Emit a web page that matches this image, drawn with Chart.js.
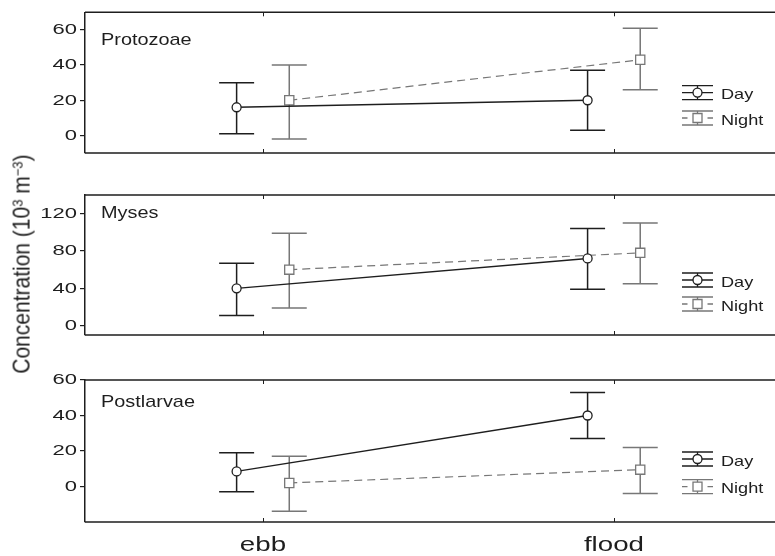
<!DOCTYPE html>
<html>
<head>
<meta charset="utf-8">
<script src="https://cdn.jsdelivr.net/npm/chart.js@4/dist/chart.umd.min.js"></script>
<style>
  html, body { margin: 0; padding: 0; background: #fff; }
  #wrap { position: relative; width: 775px; height: 556px; overflow: hidden; }
  .panel { position: absolute; left: 0; width: 775px; }
  #ytitle {
    position: absolute; left: 22px; top: 264px;
    transform: translate(-50%, -50%) rotate(-90deg) scaleY(1.12);
    white-space: nowrap; line-height: 1; color: #1e1e1e;
    font: 21px "Liberation Sans", Arial, Helvetica, sans-serif;
  }
  #ytitle sup { font-size: 0.62em; line-height: 0; vertical-align: 0.5em; }
</style>
</head>
<body>
<div id="wrap">
  <div class="panel" style="top:0;height:175px"><canvas id="protozoa" width="775" height="175"></canvas></div>
  <div class="panel" style="top:175px;height:180px"><canvas id="myses" width="775" height="180"></canvas></div>
  <div class="panel" style="top:355px;height:201px"><canvas id="postlarvae" width="775" height="201"></canvas></div>
  <div id="ytitle">Concentration (10<sup>3</sup> m<sup>−3</sup>)</div>
</div>
<script>
// tide phases and series
const categories = ['ebb', 'flood'];
const seriesNames = ['Day', 'Night'];

// Protozoae (mean, lower and upper limit)
const protozoaDay = [16, 20];
const protozoaDayLow = [1, 3];
const protozoaDayHigh = [30, 37];
const protozoaNight = [20, 43];
const protozoaNightLow = [-2, 26];
const protozoaNightHigh = [40, 61];
const protozoaTicks = [0, 20, 40, 60];

// Myses
const mysesDay = [40, 72];
const mysesDayLow = [11, 39];
const mysesDayHigh = [67, 104];
const mysesNight = [60, 78];
const mysesNightLow = [19, 45];
const mysesNightHigh = [99, 110];
const mysesTicks = [0, 40, 80, 120];

// Postlarvae
const postDay = [8.5, 40];
const postDayLow = [-3, 27];
const postDayHigh = [19, 53];
const postNight = [2, 9.5];
const postNightLow = [-14, -4];
const postNightHigh = [17, 22];
const postTicks = [0, 20, 40, 60];

const INK = '#1e1e1e';
const GREY = '#777777';
const FONT = '"Liberation Sans", Arial, Helvetica, sans-serif';
const DAY_SHIFT = -0.075;
const NIGHT_SHIFT = 0.075;

const toPoints = (values, shift) => values.map((v, i) => ({ x: i + shift, y: v }));

// the figure uses a wide face; stretch canvas text about its anchor point
function widenText(ctx) {
  const fill = ctx.fillText.bind(ctx);
  ctx.textStretch = 1.42;
  ctx.fillText = (text, x, y, maxWidth) => {
    const k = ctx.textStretch;
    ctx.save();
    ctx.translate(x, y);
    ctx.scale(k, 1);
    if (maxWidth === undefined) fill(text, 0, 0);
    else fill(text, 0, 0, maxWidth / k);
    ctx.restore();
  };
}

// vertical bars with caps, drawn under the lines and markers
const errorBars = {
  id: 'errorBars',
  beforeDatasetsDraw(chart) {
    const { ctx, scales: { y } } = chart;
    chart.data.datasets.forEach((ds, di) => {
      const meta = chart.getDatasetMeta(di);
      ctx.save();
      ctx.strokeStyle = ds.borderColor;
      ctx.lineWidth = 1.5;
      ctx.beginPath();
      meta.data.forEach((pt, i) => {
        const top = y.getPixelForValue(ds.high[i]);
        const bot = y.getPixelForValue(ds.low[i]);
        const cap = 17.5;
        ctx.moveTo(pt.x, top); ctx.lineTo(pt.x, bot);
        ctx.moveTo(pt.x - cap, top); ctx.lineTo(pt.x + cap, top);
        ctx.moveTo(pt.x - cap, bot); ctx.lineTo(pt.x + cap, bot);
      });
      ctx.stroke();
      ctx.restore();
    });
  }
};

// top/bottom frame, category ticks, panel name and key
const panelDecor = {
  id: 'panelDecor',
  beforeDatasetsDraw(chart) {
    const { ctx, chartArea: a, scales: { x } } = chart;
    ctx.save();
    ctx.strokeStyle = INK;
    ctx.lineWidth = 1.5;
    ctx.beginPath();
    ctx.moveTo(a.left, a.top); ctx.lineTo(a.right, a.top);
    ctx.moveTo(a.left, a.bottom); ctx.lineTo(a.right, a.bottom);
    ctx.stroke();
    ctx.lineWidth = 1;
    ctx.beginPath();
    categories.forEach((c, i) => {
      const px = Math.round(x.getPixelForValue(i)) + 0.5;
      ctx.moveTo(px, a.top); ctx.lineTo(px, a.top + 4);
      ctx.moveTo(px, a.bottom); ctx.lineTo(px, a.bottom - 4);
    });
    ctx.stroke();
    ctx.restore();
  },
  afterDatasetsDraw(chart, args, opts) {
    const { ctx, chartArea: a } = chart;
    ctx.save();
    ctx.fillStyle = INK;
    ctx.textBaseline = 'alphabetic';
    ctx.font = `17px ${FONT}`;
    ctx.textStretch = 1.17;
    ctx.fillText(opts.name, 101, a.top + opts.nameBaseline);

    ctx.font = `14.5px ${FONT}`;
    ctx.textStretch = 1.25;
    const cx = 697.5;
    chart.data.datasets.forEach((ds, i) => {
      const cy = a.top + opts.keyRows[i];
      const day = ds.pointStyle === 'circle';
      ctx.strokeStyle = ds.borderColor;
      ctx.lineWidth = 1.3;
      ctx.beginPath();
      ctx.moveTo(cx - 15.5, cy - 7); ctx.lineTo(cx + 15.5, cy - 7);
      ctx.moveTo(cx - 15.5, cy + 7); ctx.lineTo(cx + 15.5, cy + 7);
      ctx.moveTo(cx, cy - 7); ctx.lineTo(cx, cy + 7);
      if (day) {
        ctx.moveTo(cx - 15.5, cy); ctx.lineTo(cx + 15.5, cy);
      } else {
        ctx.moveTo(cx - 15.5, cy); ctx.lineTo(cx - 10, cy);
        ctx.moveTo(cx + 10, cy); ctx.lineTo(cx + 15.5, cy);
      }
      ctx.stroke();
      ctx.fillStyle = '#fff';
      ctx.beginPath();
      if (day) ctx.arc(cx, cy, 4.5, 0, Math.PI * 2);
      else ctx.rect(cx - 4.5, cy - 4.5, 9, 9);
      ctx.fill();
      ctx.stroke();
      ctx.fillStyle = INK;
      ctx.fillText(seriesNames[i], 721, cy + 6.5);
    });
    ctx.textStretch = 1.42;
    ctx.restore();
  }
};

function makePanel(id, cfg) {
  const canvas = document.getElementById(id);
  widenText(canvas.getContext('2d'));

  const datasets = [
    {
      label: seriesNames[0],
      data: toPoints(cfg.day, DAY_SHIFT),
      low: cfg.dayLow, high: cfg.dayHigh,
      borderColor: INK, borderWidth: 1.4,
      pointStyle: 'circle', pointRadius: 4.5,
      pointBackgroundColor: '#fff', pointBorderColor: INK, pointBorderWidth: 1.3,
    },
    {
      label: seriesNames[1],
      data: toPoints(cfg.night, NIGHT_SHIFT),
      low: cfg.nightLow, high: cfg.nightHigh,
      borderColor: GREY, borderWidth: 1.2, borderDash: [8, 5],
      pointStyle: 'rect', pointRadius: 6.5,
      pointBackgroundColor: '#fff', pointBorderColor: GREY, pointBorderWidth: 1.3,
    },
  ];

  return new Chart(canvas, {
    type: 'line',
    data: { datasets },
    plugins: [errorBars, panelDecor],
    options: {
      responsive: false,
      animation: false,
      devicePixelRatio: 1,
      layout: { autoPadding: false, padding: { left: 0, right: 0, top: cfg.padTop, bottom: cfg.padBottom } },
      plugins: {
        legend: { display: false },
        tooltip: { enabled: false },
        panelDecor: { name: cfg.name, nameBaseline: cfg.nameBaseline, keyRows: cfg.keyRows },
      },
      scales: {
        x: {
          type: 'linear',
          min: -0.507,
          max: 1.459,
          display: cfg.showX,
          afterBuildTicks: (s) => { s.ticks = categories.map((c, i) => ({ value: i })); },
          afterFit: (s) => { if (cfg.showX) s.height = 34; },
          grid: { display: false, drawTicks: false },
          border: { display: false },
          ticks: {
            color: INK,
            font: { family: FONT, size: 19.5 },
            padding: 12,
            callback: (v) => categories[v],
          },
        },
        y: {
          min: cfg.min,
          max: cfg.max,
          afterBuildTicks: (s) => { s.ticks = cfg.ticks.map((v) => ({ value: v })); },
          afterFit: (s) => { s.width = 85; },
          grid: { drawOnChartArea: false, tickLength: 5, color: INK, lineWidth: 1.2 },
          border: { color: INK, width: 1.5 },
          ticks: { color: INK, font: { family: FONT, size: 15.5 }, padding: 3 },
        },
      },
    },
  });
}

makePanel('protozoa', {
  name: 'Protozoae', nameBaseline: 32.3, keyRows: [80.3, 105.7],
  day: protozoaDay, dayLow: protozoaDayLow, dayHigh: protozoaDayHigh,
  night: protozoaNight, nightLow: protozoaNightLow, nightHigh: protozoaNightHigh,
  ticks: protozoaTicks, min: -10, max: 70,
  padTop: 11, padBottom: 22, showX: false,
});

makePanel('myses', {
  name: 'Myses', nameBaseline: 22.7, keyRows: [85, 109],
  day: mysesDay, dayLow: mysesDayLow, dayHigh: mysesDayHigh,
  night: mysesNight, nightLow: mysesNightLow, nightHigh: mysesNightHigh,
  ticks: mysesTicks, min: -10, max: 140,
  padTop: 20, padBottom: 20, showX: false,
});

makePanel('postlarvae', {
  name: 'Postlarvae', nameBaseline: 26.7, keyRows: [79, 106.7],
  day: postDay, dayLow: postDayLow, dayHigh: postDayHigh,
  night: postNight, nightLow: postNightLow, nightHigh: postNightHigh,
  ticks: postTicks, min: -20, max: 60,
  padTop: 25, padBottom: 0, showX: true,
});
</script>
</body>
</html>
